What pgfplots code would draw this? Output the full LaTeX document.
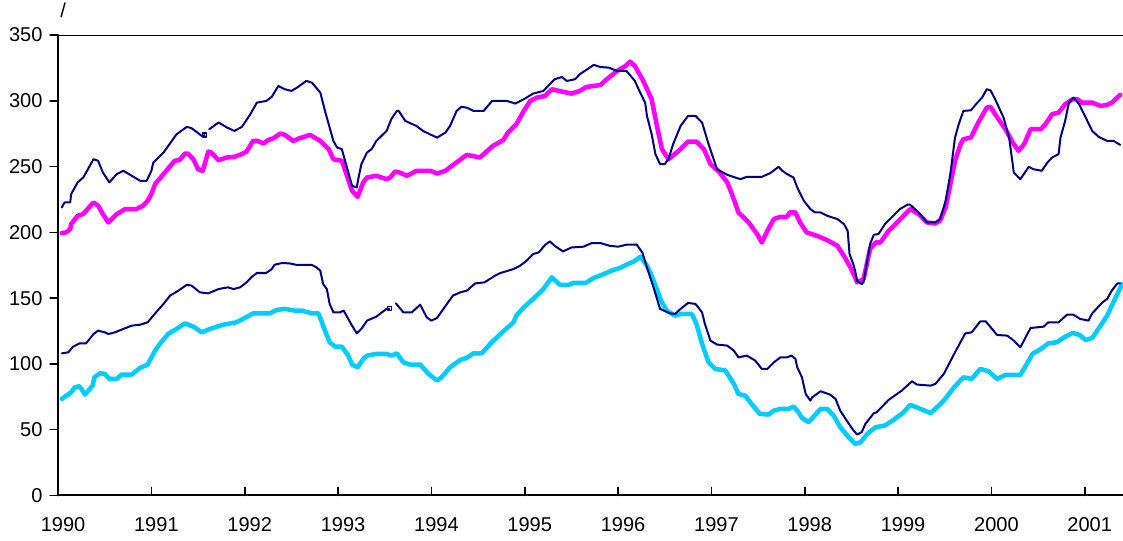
\documentclass[border=0pt]{standalone}
\usepackage{fontspec}
\setmainfont{Liberation Sans}
\usepackage{pgfplots}
\pgfplotsset{compat=1.18}
\definecolor{navyline}{HTML}{000080}
\definecolor{magline}{HTML}{FF00FF}
\definecolor{cyanline}{HTML}{00CCFF}
\begin{document}
\begin{tikzpicture}
\begin{axis}[
  scale only axis,
  width=798pt, height=345pt,
  xmin=1990, xmax=2001.41,
  ymin=0, ymax=350,
  axis lines*=left,
  axis line style={line width=1.5pt, black},
  xtick={1990,1991,...,2001},
  xticklabels={1990,1991,1992,1993,1994,1995,1996,1997,1998,1999,2000,2001},
  ytick={0,50,...,350},
  x tick style={line width=1.2pt, black},
  y tick style={line width=1.2pt, black},
  xtick align=inside,
  ytick align=outside,
  major tick length=6pt,
  tick label style={font=\fontsize{15}{17}\selectfont},
  /pgf/number format/assume math mode=true,
  xticklabel style={inner sep=0pt, anchor=north, yshift=-16.5pt, xshift=3.75pt},
  yticklabel style={inner sep=0pt, anchor=east, xshift=-5.5pt},
  line join=round, line cap=round,
  clip=true,
]
% magenta (upper thick)
\addplot[magline, line width=3.4pt, mark=none] coordinates {
(1990.04,199.5)(1990.09,200)(1990.13,202.5)(1990.14,206.3)(1990.21,212.6)(1990.27,213.9)(1990.30,216.4)
(1990.38,222.7)(1990.43,220.2)(1990.48,213.9)(1990.54,207.5)(1990.63,213.9)(1990.72,217.7)(1990.84,217.7)
(1990.91,220.2)(1990.96,224)(1991.00,229.1)(1991.04,236.7)(1991.13,244.3)(1991.25,254.4)(1991.30,254.9)
(1991.36,259.9)(1991.39,259.9)(1991.45,255.6)(1991.50,248)(1991.55,246.8)(1991.61,261.4)(1991.64,260.7)
(1991.72,254.9)(1991.81,256.9)(1991.89,257.4)(1991.97,259.5)(1992.02,261.4)(1992.09,269.5)(1992.14,269.5)
(1992.20,267.5)(1992.25,270.1)(1992.31,271.6)(1992.38,275.1)(1992.43,274.1)(1992.52,269.5)(1992.59,271.6)
(1992.70,274.1)(1992.81,269.5)(1992.90,263.2)(1992.95,255.6)(1993.04,254.4)(1993.09,244.3)(1993.15,231.6)
(1993.21,227)(1993.27,238)(1993.31,241.7)(1993.41,243)(1993.52,240.4)(1993.56,241.7)(1993.61,246.2)
(1993.66,245.5)(1993.74,243)(1993.84,246.8)(1993.99,246.8)(1994.06,244.7)(1994.15,246.8)(1994.22,250.6)
(1994.38,258.9)(1994.52,256.9)(1994.66,265.8)(1994.77,270.1)(1994.82,275.8)(1994.91,282.2)(1994.99,292.3)
(1995.06,299.9)(1995.13,302.4)(1995.22,303.7)(1995.29,308.8)(1995.40,307)(1995.50,305.5)(1995.59,307.5)
(1995.66,310.5)(1995.81,312)(1995.88,316.4)(1995.99,322.7)(1996.08,326.5)(1996.13,329.8)(1996.18,326.5)
(1996.27,315.1)(1996.36,301.2)(1996.42,279.7)(1996.47,263.2)(1996.54,255.6)(1996.65,262)(1996.75,269)
(1996.84,269)(1996.92,263.2)(1996.99,251.9)(1997.08,246.2)(1997.17,238)(1997.22,229.1)(1997.29,215.1)
(1997.40,207.5)(1997.49,198.7)(1997.54,192.3)(1997.60,201.2)(1997.67,210.1)(1997.74,211.8)(1997.81,211.8)
(1997.84,215.1)(1997.90,215.1)(1997.95,207.5)(1998.02,200)(1998.13,197.4)(1998.24,194.1)(1998.35,189.8)
(1998.43,180.9)(1998.49,173.3)(1998.54,165.8)(1998.56,162)(1998.63,164.5)(1998.70,187.3)(1998.76,192.3)
(1998.81,192.3)(1998.90,201.2)(1998.99,207.5)(1999.06,212.6)(1999.13,217.7)(1999.22,213.9)(1999.31,207.5)
(1999.40,206.8)(1999.45,208.8)(1999.51,219)(1999.56,236.7)(1999.61,254.4)(1999.67,267)(1999.70,270.8)
(1999.78,272)(1999.86,283.5)(1999.95,294.8)(1999.99,295.4)(2000.04,289.8)(2000.15,278.4)(2000.24,267)
(2000.29,262)(2000.35,267)(2000.42,278.4)(2000.53,278.4)(2000.58,282.2)(2000.65,289.8)(2000.72,291)
(2000.79,297.4)(2000.87,301.2)(2000.92,301.2)(2000.97,298.6)(2001.08,298.6)(2001.17,296.1)(2001.24,296.9)
(2001.29,298.6)(2001.38,304.5)
};
% cyan (lower thick)
\addplot[cyanline, line width=3.4pt, mark=none] coordinates {
(1990.04,73.4)(1990.09,75.9)(1990.14,78.4)(1990.18,82.2)(1990.23,83)(1990.29,76.7)(1990.34,81)(1990.37,83.5)
(1990.39,89.8)(1990.45,92.9)(1990.50,92.4)(1990.55,88.6)(1990.63,88.6)(1990.68,91.9)(1990.79,91.9)(1990.88,97)
(1990.96,99.5)(1991.04,110.1)(1991.09,115.2)(1991.18,122.8)(1991.27,126.6)(1991.36,130.8)(1991.45,128.3)
(1991.54,124)(1991.63,126.6)(1991.77,129.8)(1991.91,131.6)(1992.00,134.9)(1992.09,138.4)(1992.27,138.4)
(1992.34,141)(1992.43,141.8)(1992.54,140.5)(1992.61,140.5)(1992.72,138.4)(1992.79,138.4)(1992.82,132.9)
(1992.86,125.3)(1992.91,116.4)(1992.97,113.1)(1993.04,113.1)(1993.11,106.3)(1993.15,99.5)(1993.21,97.4)
(1993.27,103.8)(1993.31,106.3)(1993.41,107.6)(1993.52,107.6)(1993.57,106.3)(1993.63,108)(1993.70,101.2)
(1993.77,99.5)(1993.88,99.5)(1993.97,92.4)(1994.06,87.3)(1994.11,89.8)(1994.20,97.4)(1994.31,103)
(1994.38,104.6)(1994.45,108)(1994.54,108)(1994.63,115.2)(1994.74,122.8)(1994.88,131.6)(1994.91,136.7)
(1994.99,143)(1995.09,149.4)(1995.20,156.9)(1995.29,165.8)(1995.38,160)(1995.47,160)(1995.52,161.5)
(1995.65,161.5)(1995.74,165.3)(1995.83,167.8)(1995.95,171.4)(1996.02,172.9)(1996.09,175.4)(1996.17,177.9)
(1996.24,181.5)(1996.31,174.6)(1996.36,167)(1996.42,155.7)(1996.47,146.8)(1996.52,140.5)(1996.61,136.7)
(1996.68,138)(1996.79,138)(1996.84,130.4)(1996.90,115.2)(1996.97,101.2)(1997.04,96.2)(1997.15,94.9)
(1997.24,84.8)(1997.29,77.2)(1997.36,75.9)(1997.43,69.6)(1997.52,62)(1997.61,61.5)(1997.67,64.5)
(1997.74,65.8)(1997.83,65.8)(1997.88,67.6)(1997.92,64.5)(1997.97,59)(1998.04,55.7)(1998.09,59.5)
(1998.17,65.8)(1998.24,65.8)(1998.31,60.7)(1998.38,51.9)(1998.47,44.3)(1998.54,39.2)(1998.60,40.5)
(1998.67,46.8)(1998.76,51.9)(1998.86,53.2)(1998.95,57.4)(1999.06,63.2)(1999.13,68.9)(1999.24,65.8)
(1999.35,62.5)(1999.49,72.1)(1999.60,82.2)(1999.70,89.8)(1999.79,88.6)(1999.88,96.2)(1999.97,94.4)
(2000.06,88.6)(2000.15,91.6)(2000.31,91.6)(2000.38,100)(2000.44,107.6)(2000.53,111.4)(2000.61,115.6)
(2000.70,116.4)(2000.78,120.2)(2000.87,123.5)(2000.94,122.2)(2001.01,118.2)(2001.08,119.7)(2001.17,129.1)
(2001.24,136.7)(2001.29,144.3)(2001.35,153.1)(2001.40,160.7)
};
% upper navy, part 1
\addplot[navyline, line width=1.5pt, mark=none] coordinates {
(1990.04,218.9)(1990.07,222.7)(1990.13,222.7)(1990.14,229)(1990.21,238)(1990.27,241.7)(1990.38,255.6)
(1990.43,254.4)(1990.48,245.5)(1990.55,238)(1990.63,244.3)(1990.70,246.8)(1990.79,243)(1990.88,239.2)
(1990.95,239.2)(1991.00,246.8)(1991.02,253)(1991.13,260.7)(1991.27,274.6)(1991.38,280.2)(1991.43,279.2)
(1991.54,273.3)(1991.57,273.9)
};
\addplot[navyline, line width=0.8pt, only marks, mark=square, mark size=1.5pt] coordinates {(1991.57,274)};
% upper navy, part 2
\addplot[navyline, line width=1.5pt, mark=none] coordinates {
(1991.62,278.4)(1991.72,283.5)(1991.81,279.7)(1991.89,277.1)(1991.97,280.2)(1992.06,289.8)(1992.13,298.6)
(1992.23,299.9)(1992.29,303)(1992.36,311.3)(1992.43,308.8)(1992.50,307.5)(1992.56,310)(1992.66,315.1)
(1992.72,313.8)(1992.81,306.2)(1992.86,292.3)(1992.95,269.5)(1992.99,264.5)(1993.04,263.3)(1993.15,235.4)
(1993.20,234.1)(1993.22,241.7)(1993.25,251.9)(1993.31,260.7)(1993.36,263.3)(1993.41,269.5)(1993.52,277.1)
(1993.57,286)(1993.63,292.3)(1993.65,292.3)(1993.72,284.7)(1993.84,280.9)(1993.91,277.1)(1994.06,272)
(1994.15,275.8)(1994.20,280.9)(1994.27,292.3)(1994.32,295.4)(1994.38,294.8)(1994.45,292.3)(1994.56,292.3)
(1994.65,299.9)(1994.81,299.9)(1994.90,297.9)(1994.99,301.2)(1995.09,305.5)(1995.20,307.5)(1995.25,311.3)
(1995.32,316.4)(1995.40,318.1)(1995.45,315.1)(1995.54,316.4)(1995.59,320.2)(1995.74,327.3)(1995.81,325.7)
(1995.90,325.2)(1995.99,322.7)(1996.09,322.7)(1996.18,315.1)(1996.22,308.8)(1996.29,298.6)(1996.31,288.5)
(1996.36,274.6)(1996.40,259.5)(1996.45,251.9)(1996.50,251.9)(1996.54,255.7)(1996.59,267)(1996.67,280.9)
(1996.75,288.5)(1996.83,288.5)(1996.90,283.5)(1996.97,267)(1997.06,248)(1997.17,243.7)(1997.31,240.4)
(1997.38,242.2)(1997.54,242.2)(1997.63,245)(1997.72,249.8)(1997.76,246.8)(1997.81,244.3)(1997.88,241.7)
(1997.92,234.1)(1997.99,224)(1998.06,217.7)(1998.11,215.1)(1998.17,215.1)(1998.24,212.6)(1998.35,210.1)
(1998.42,206.3)(1998.46,201.2)(1998.48,183.5)(1998.52,175.9)(1998.54,170.8)(1998.56,163.2)(1998.61,160.7)
(1998.63,162)(1998.70,191.1)(1998.74,198.2)(1998.79,198.7)(1998.86,206.3)(1998.93,211.3)(1999.02,217.7)
(1999.10,221)(1999.13,221)(1999.22,215.1)(1999.31,207.5)(1999.40,207.5)(1999.45,210.1)(1999.51,224)
(1999.56,244.3)(1999.61,272)(1999.65,282.2)(1999.70,292.3)(1999.78,292.8)(1999.85,298.6)(1999.90,302.4)
(1999.95,308.8)(1999.99,308)(2000.04,301.2)(2000.13,287.3)(2000.19,272)(2000.24,245.5)(2000.31,240.4)
(2000.40,249.8)(2000.45,248)(2000.54,246.8)(2000.60,253.1)(2000.65,256.9)(2000.72,259.5)(2000.74,272)
(2000.79,284.7)(2000.83,298.6)(2000.88,302.4)(2000.94,297.4)(2001.01,287.3)(2001.08,277.1)(2001.15,272.6)
(2001.24,269.5)(2001.31,269.5)(2001.38,266.5)
};
% lower navy, part 1
\addplot[navyline, line width=1.5pt, mark=none] coordinates {
(1990.04,108)(1990.11,108.8)(1990.16,113.1)(1990.23,115.6)(1990.30,115.6)(1990.38,122.7)(1990.43,125.3)
(1990.50,124)(1990.54,122.7)(1990.61,124)(1990.70,126.6)(1990.79,129.1)(1990.88,129.8)(1990.96,131.6)
(1991.05,139.2)(1991.13,145.6)(1991.20,151.9)(1991.29,155.7)(1991.38,160.2)(1991.43,159.5)(1991.52,154.4)
(1991.61,153.6)(1991.72,156.9)(1991.82,158.2)(1991.88,156.9)(1991.95,158.2)(1992.02,162)(1992.07,165.8)
(1992.13,169.1)(1992.23,169.1)(1992.29,172.1)(1992.32,175.4)(1992.40,176.7)(1992.48,176.4)(1992.56,175.2)
(1992.72,175.2)(1992.77,173.3)(1992.81,170.8)(1992.84,160.7)(1992.88,156.9)(1992.91,145.6)(1992.95,139.2)
(1993.02,139.2)(1993.06,140.5)(1993.09,136.7)(1993.15,129.1)(1993.20,123.2)(1993.25,126.6)(1993.31,132.9)
(1993.41,135.9)(1993.47,139.2)(1993.52,141.8)(1993.55,141.8)
};
\addplot[navyline, line width=0.8pt, only marks, mark=square, mark size=1.5pt] coordinates {(1993.55,141.8)};
% lower navy, part 2
\addplot[navyline, line width=1.5pt, mark=none] coordinates {
(1993.62,146)(1993.70,139.2)(1993.79,139.2)(1993.88,145)(1993.95,135.4)(1994.00,132.9)(1994.06,134.9)
(1994.11,139.9)(1994.23,151.9)(1994.31,154.4)(1994.38,155.7)(1994.47,161.2)(1994.57,162)(1994.68,167)
(1994.74,169.1)(1994.88,172.1)(1994.95,174.6)(1995.02,178.4)(1995.09,183.5)(1995.15,184.7)(1995.22,190.6)
(1995.27,193.1)(1995.32,189.8)(1995.41,185.5)(1995.50,188.5)(1995.63,189.1)(1995.72,191.9)(1995.81,191.9)
(1995.91,189.8)(1996.00,189.1)(1996.09,190.6)(1996.20,190.6)(1996.26,184.7)(1996.31,173.3)(1996.38,158.2)
(1996.45,141.8)(1996.56,138.4)(1996.61,137.9)(1996.67,141.8)(1996.75,146.3)(1996.83,145.6)(1996.90,139.2)
(1996.93,130.4)(1996.99,117.7)(1997.06,114.7)(1997.17,113.9)(1997.24,110.1)(1997.29,105)(1997.38,106.3)
(1997.47,102.5)(1997.54,96.2)(1997.60,96.2)(1997.67,101.2)(1997.74,105)(1997.81,105)(1997.86,106.3)
(1997.90,103.8)(1997.92,97.4)(1997.97,89.8)(1998.01,77.2)(1998.06,72.1)(1998.08,74.6)(1998.17,79.2)
(1998.27,76.7)(1998.33,73.4)(1998.38,64.5)(1998.45,56.9)(1998.51,50.6)(1998.56,46.3)(1998.61,48.1)
(1998.65,54.4)(1998.74,62.5)(1998.77,63.2)(1998.90,72.7)(1999.04,79.7)(1999.15,86.8)(1999.20,84.3)
(1999.35,83.5)(1999.40,84.8)(1999.49,92.4)(1999.61,108.8)(1999.72,123.2)(1999.79,124)(1999.88,132.3)
(1999.94,132.3)(2000.06,122)(2000.17,121.5)(2000.24,117.7)(2000.31,112.6)(2000.42,127.3)(2000.56,128.3)
(2000.61,131.6)(2000.72,131.6)(2000.76,134.2)(2000.81,137.4)(2000.88,137.4)(2000.95,134.2)(2001.04,132.9)
(2001.08,138.4)(2001.19,146.8)(2001.24,149.4)(2001.29,155.7)(2001.35,161.2)(2001.38,161.2)
};
\draw[line width=1.5pt, black] (rel axis cs:0,1) -- (rel axis cs:1,1);
\end{axis}
\node[anchor=base west, inner sep=0pt, font=\fontsize{15}{17}\selectfont] at (1.5pt,358.5pt) {/};
\pgfresetboundingbox
\path[use as bounding box] (-43.5pt,-33.75pt) rectangle (798pt,371.25pt);
\end{tikzpicture}
\end{document}
